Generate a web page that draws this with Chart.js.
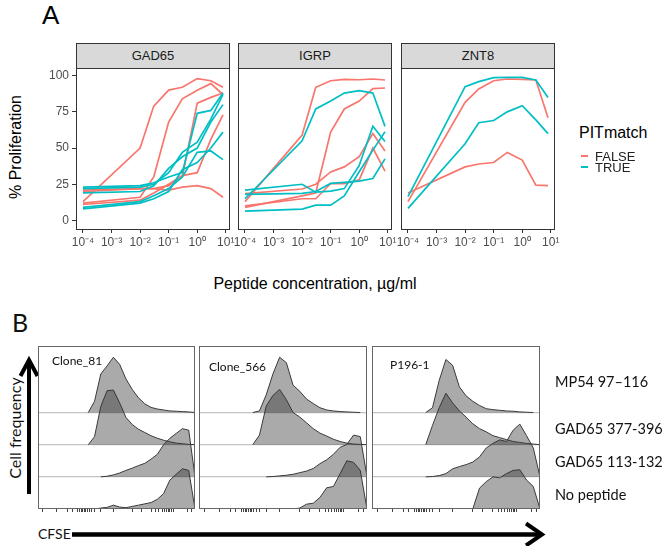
<!DOCTYPE html>
<html>
<head>
<meta charset="utf-8">
<script src="https://cdn.jsdelivr.net/npm/chart.js@4.4.1/dist/chart.umd.min.js"></script>
<style>
  body { margin: 0; background: #fff; }
  #fig { position: relative; width: 668px; height: 546px; overflow: hidden; font-family: "Liberation Sans", Arial, sans-serif; }
  #fig canvas { position: absolute; }
  .t { position: absolute; white-space: nowrap; line-height: 1; }
  .c { transform: translate(-50%, -50%); }
  .l { transform: translateY(-50%); }
  .rot { transform: translate(-50%, -50%) rotate(-90deg); }
  .strip { position: absolute; top: 43px; height: 26px; width: 154px; box-sizing: border-box; background: #d9d9d9;
           border: 1px solid #333; font-size: 13px; color: #1a1a1a; text-align: center; line-height: 24px; }
  .lato { font-family: Lato, "Open Sans", sans-serif; color: #111; }
  .key { position: absolute; width: 7px; height: 2px; }
</style>
</head>
<body>
<div id="fig">
  <div class="t l" style="left:42px;top:15px;font-size:26px;">A</div>
  <div class="t rot" style="left:16px;top:147px;font-size:16px;">% Proliferation</div>
  <div class="t c" style="left:315px;top:284px;font-size:16px;">Peptide concentration, µg/ml</div>

  <div class="strip" style="left:76px;">GAD65</div>
  <div class="strip" style="left:238px;">IGRP</div>
  <div class="strip" style="left:401px;">ZNT8</div>
  <canvas id="gad" width="220" height="190" style="left:26px;top:66px;"></canvas>
  <canvas id="igrp" width="220" height="190" style="left:188px;top:66px;"></canvas>
  <canvas id="znt" width="220" height="190" style="left:351px;top:66px;"></canvas>

  <div class="t l" style="left:579px;top:133px;font-size:16px;">PITmatch</div>
  <div class="key" style="left:581px;top:155px;background:#F8766D;"></div>
  <div class="t l" style="left:595px;top:156px;font-size:13px;color:#222;">FALSE</div>
  <div class="key" style="left:581px;top:166px;background:#00BFC4;"></div>
  <div class="t l" style="left:595px;top:167px;font-size:13px;color:#222;">TRUE</div>

  <div class="t l lato" style="left:12px;top:322px;font-size:25px;">B</div>
  <div class="t rot lato" style="left:15px;top:428px;font-size:16px;">Cell frequency</div>
  <div class="t l lato" style="left:38px;top:534px;font-size:14px;">CFSE</div>
  <svg width="668" height="546" style="position:absolute;left:0;top:0;">
    <line x1="29" y1="494" x2="29" y2="362" stroke="#000" stroke-width="4"/>
    <polyline points="20.5,376 29,360 37.5,376" fill="none" stroke="#000" stroke-width="4"/>
    <line x1="72" y1="534.5" x2="540" y2="534.5" stroke="#000" stroke-width="4.5"/>
    <polyline points="526,523.5 542,534.5 526,545.5" fill="none" stroke="#000" stroke-width="4"/>
  </svg>
  <canvas id="h1" width="161" height="170" style="left:36px;top:344px;"></canvas>
  <canvas id="h2" width="172" height="170" style="left:197px;top:344px;"></canvas>
  <canvas id="h3" width="172" height="170" style="left:370px;top:344px;"></canvas>
</div>

<script>
// ---- panel A: proliferation vs peptide concentration ----
const concentration = [0.0001, 0.01, 0.03, 0.1, 0.3, 1, 3, 8];
const concTicks = [1e-4, 1e-3, 1e-2, 1e-1, 1, 10];
const concTickLabels = ['10⁻⁴', '10⁻³', '10⁻²', '10⁻¹', '10⁰', '10¹'];
const pctTicks = [0, 25, 50, 75, 100];

const gad65False = [
  [13, 50, 79, 90, 92, 98, 96.5, 92],
  [12, 16, 30, 68, 84, 90, 94.5, 87],
  [20, 22, 22, 24, 30, 81, 85, 88],
  [11, 14, 19, 25, 31, 33, 56, 73],
  [21, 22, 22, 21, 23, 24, 22, 16]
];
const gad65True = [
  [23, 24, 26, 30, 33, 74, 76, 88],
  [22, 23, 25, 33, 47, 54, 70, 87],
  [19, 20, 24, 36, 44, 50, 68, 80],
  [9, 13, 17, 22, 30, 47, 48, 42],
  [8, 12, 15, 20, 35, 40, 50, 61]
];
const igrpFalse = [
  [13, 59, 92, 96.5, 97.5, 97.2, 97.7, 97],
  [9, 17, 19, 61, 77, 82.5, 91, 91.5],
  [18.5, 21.7, 25, 33.5, 37, 44, 60, 48],
  [10, 15, 15, 25.5, 25.5, 28, 50, 34]
];
const igrpTrue = [
  [15, 55, 77, 82.5, 88, 89.6, 88, 65],
  [21, 25, 19.5, 20.3, 22, 38, 65, 54.5],
  [18, 18.7, 20, 25.6, 26.3, 27.2, 29, 42.5],
  [6.5, 7.8, 10.6, 10.6, 17, 33.6, 48.6, 61.3]
];
const zntFalse = [
  [13, 81.6, 90.8, 96.5, 97.7, 97.5, 97, 71],
  [19, 37, 39, 40, 47, 41.7, 24.4, 24]
];
const zntTrue = [
  [16.4, 92.4, 95.9, 98.6, 98.8, 98.8, 97, 85],
  [8.3, 53, 67.5, 69, 75, 79.3, 69.5, 60]
];

// ---- panel B: CFSE histograms (height in row units per bin) ----
const cloneNames = ['Clone_81', 'Clone_566', 'P196-1'];
const peptideLabels = ['MP54 97–116', 'GAD65 377-396', 'GAD65 113-132', 'No peptide'];
const cfseBins = [0, 4, 8, 12, 16, 20, 24, 28, 32, 36, 40, 44, 48, 52, 56, 60, 64, 68, 72, 76, 80, 84, 88, 92, 96, 100];
const cfseTicks = [3, 12, 19, 22, 25, 26.5, 27.5, 28.5, 29.5, 30.5, 31.5, 32.5, 34, 36, 40, 48, 60, 66, 72, 75, 77, 79, 80.5, 82, 83, 84, 85, 86, 95, 98];

const c81Mp54   = [0,0,0,0,0,0,0,0,0, 0.35,1.2,1.45,1.72,1.5,1.05,0.72,0.46,0.27,0.16,0.11,0.08,0.05,0.04,0.03,0.02,0];
const c81Gad377 = [0,0,0,0,0,0,0,0,0, 0.25,1.19,1.68,1.7,1.3,0.85,0.63,0.48,0.38,0.28,0.2,0.14,0.09,0.05,0.03,0.01,0];
const c81Gad113 = [0,0,0,0,0,0,0,0,0,0,0, 0.02,0.06,0.12,0.2,0.27,0.35,0.42,0.55,0.7,1.0,1.2,1.35,1.5,1.45,0];
const c81NoPep  = [0,0,0,0,0,0,0,0,0,0, 0.03,0.05,0.12,0.06,0.04,0.08,0.12,0.16,0.2,0.3,0.48,0.9,1.08,1.25,1.2,0];

const c566Mp54   = [0,0,0,0,0,0,0,0,0, 0.05,0.55,1.2,1.72,1.55,0.85,0.66,0.42,0.28,0.15,0.08,0.05,0.03,0.02,0.01,0,0];
const c566Gad377 = [0,0,0,0,0,0,0,0,0, 0.3,1.2,1.53,1.72,1.4,1.0,0.86,0.68,0.5,0.36,0.27,0.17,0.1,0.05,0.02,0.01,0];
const c566Gad113 = [0,0,0,0,0,0,0,0,0,0,0, 0.01,0.03,0.05,0.08,0.13,0.18,0.26,0.41,0.53,0.7,0.92,1.01,1.3,1.25,0];
const c566NoPep  = [0,0,0,0,0,0,0,0,0,0,0,0,0,0,0, 0.03,0.15,0.18,0.36,0.66,0.7,1.1,1.5,1.45,1.2,0];

const p196Mp54   = [0,0,0,0,0,0,0,0,0, 0.15,1.0,1.65,1.47,0.8,0.52,0.35,0.22,0.12,0.09,0.07,0.05,0.04,0.02,0.01,0,0];
const p196Gad377 = [0,0,0,0,0,0,0,0,0, 0.6,1.15,1.6,1.3,1.05,0.86,0.65,0.5,0.4,0.28,0.22,0.16,0.1,0.07,0.04,0.02,0];
const p196Gad113 = [0,0,0,0,0,0,0,0,0, 0.01,0.04,0.1,0.25,0.32,0.38,0.46,0.62,0.9,1.04,1.15,1.1,1.45,1.64,1.28,0.9,0];
const p196NoPep  = [0,0,0,0,0,0,0,0,0,0,0,0,0,0,0,0, 0.65,0.85,1.0,0.97,1.1,1.2,1.22,0.9,0.7,0];

const RED = '#F8766D';
const TEAL = '#00BFC4';

// draws a rectangle round the plot area
const frame = {
  id: 'frame',
  afterDatasetsDraw(chart, args, opts) {
    const a = chart.chartArea, ctx = chart.ctx;
    ctx.save();
    ctx.strokeStyle = opts.color || '#333';
    ctx.lineWidth = 1;
    ctx.strokeRect(Math.round(a.left) + 0.5, Math.round(a.top) + 0.5,
                   Math.round(a.right - a.left) - 1, Math.round(a.bottom - a.top) - 1);
    ctx.restore();
  }
};

// fixed axis sizes, no extra padding for labels
function fixSize(w, h) {
  return s => {
    if (w !== null) s.width = w;
    if (h !== null) s.height = h;
    s.paddingTop = 0; s.paddingBottom = 0; s.paddingLeft = 0; s.paddingRight = 0;
  };
}

function series(vals, color) {
  return {
    data: concentration.map((c, i) => ({ x: c, y: vals[i] })),
    borderColor: color, borderWidth: 1.7, pointRadius: 0, fill: false, tension: 0
  };
}

function facetChart(id, falseLines, trueLines, showY) {
  const ds = [];
  trueLines.forEach(v => ds.push(series(v, TEAL)));
  falseLines.forEach(v => ds.push(series(v, RED)));
  new Chart(document.getElementById(id), {
    type: 'line',
    data: { datasets: ds },
    options: {
      responsive: false, animation: false,
      layout: { padding: { left: 0, right: 16, top: 2, bottom: 0 }, autoPadding: false },
      plugins: { legend: { display: false }, tooltip: { enabled: false }, frame: { color: '#333' } },
      scales: {
        x: {
          type: 'logarithmic', bounds: 'data', min: Math.pow(10, -4.245), max: Math.pow(10, 1.148),
          afterBuildTicks: s => { s.ticks = concTicks.map(v => ({ value: v })); },
          afterFit: fixSize(null, 26),
          grid: { drawOnChartArea: false, drawTicks: true, tickLength: 3, color: '#333' },
          border: { display: false },
          ticks: { callback: (v, i) => concTickLabels[i], color: '#4d4d4d', font: { size: 12 },
                   padding: 2, maxRotation: 0, autoSkip: false }
        },
        y: {
          bounds: 'data', min: -6.6, max: 105.3,
          afterBuildTicks: s => { s.ticks = pctTicks.map(v => ({ value: v })); },
          afterFit: fixSize(50, null),
          grid: { drawOnChartArea: false, drawTicks: showY, tickLength: 4, color: '#333' },
          border: { display: false },
          ticks: { display: showY, color: '#4d4d4d', font: { size: 12 }, padding: 3 }
        }
      }
    },
    plugins: [frame]
  });
}

function histChart(id, rows) {
  const n = rows.length;
  const ds = rows.map((vals, k) => {
    const off = n - 1 - k;
    return {
      data: cfseBins.map((x, i) => ({ x: x, y: off + vals[i] })),
      borderColor: '#3a3a3a', borderWidth: 1, pointRadius: 0, tension: 0,
      backgroundColor: 'rgba(48,48,48,0.41)',
      fill: { value: off },
      segment: {
        borderColor: c => (c.p0.parsed.y <= off + 0.001 && c.p1.parsed.y <= off + 0.001) ? 'rgba(0,0,0,0)' : '#3a3a3a'
      }
    };
  });
  new Chart(document.getElementById(id), {
    type: 'line',
    data: { datasets: ds },
    options: {
      responsive: false, animation: false,
      layout: { padding: { left: 2, right: 2, top: 2, bottom: 0 }, autoPadding: false },
      plugins: { legend: { display: false }, tooltip: { enabled: false }, frame: { color: '#666' } },
      scales: {
        x: {
          type: 'linear', bounds: 'data', min: 0, max: 100,
          afterBuildTicks: s => { s.ticks = cfseTicks.map(v => ({ value: v })); },
          afterFit: fixSize(null, 5),
          grid: { drawOnChartArea: false, drawTicks: true, tickLength: 3, color: '#444' },
          border: { display: false },
          ticks: { callback: () => '', autoSkip: false, maxRotation: 0 }
        },
        y: {
          bounds: 'data', min: 0, max: 5.07,
          afterBuildTicks: s => { s.ticks = rows.map((r, k) => ({ value: k })).filter(t => t.value > 0); },
          afterFit: fixSize(0, null),
          grid: { color: '#c4c4c4', lineWidth: 1.3, drawTicks: false },
          border: { display: false },
          ticks: { display: false }
        }
      }
    },
    plugins: [frame]
  });
}

Chart.defaults.font.family = '"Liberation Sans", Arial, sans-serif';

facetChart('gad', gad65False, gad65True, true);
facetChart('igrp', igrpFalse, igrpTrue, false);
facetChart('znt', zntFalse, zntTrue, false);

histChart('h1', [c81Mp54, c81Gad377, c81Gad113, c81NoPep]);
histChart('h2', [c566Mp54, c566Gad377, c566Gad113, c566NoPep]);
histChart('h3', [p196Mp54, p196Gad377, p196Gad113, p196NoPep]);

// text labels of panel B
const fig = document.getElementById('fig');
function addText(txt, x, y, size) {
  const d = document.createElement('div');
  d.className = 't l lato';
  d.style.left = x + 'px'; d.style.top = y + 'px'; d.style.fontSize = size + 'px';
  d.textContent = txt;
  fig.appendChild(d);
}
const cloneX = [52, 209, 390], cloneY = [361, 367, 365];
cloneNames.forEach((n, i) => addText(n, cloneX[i], cloneY[i], 12));
const pepY = [382, 429, 462, 495];
peptideLabels.forEach((p, i) => addText(p, 555, pepY[i], 14.5));
</script>
</body>
</html>
